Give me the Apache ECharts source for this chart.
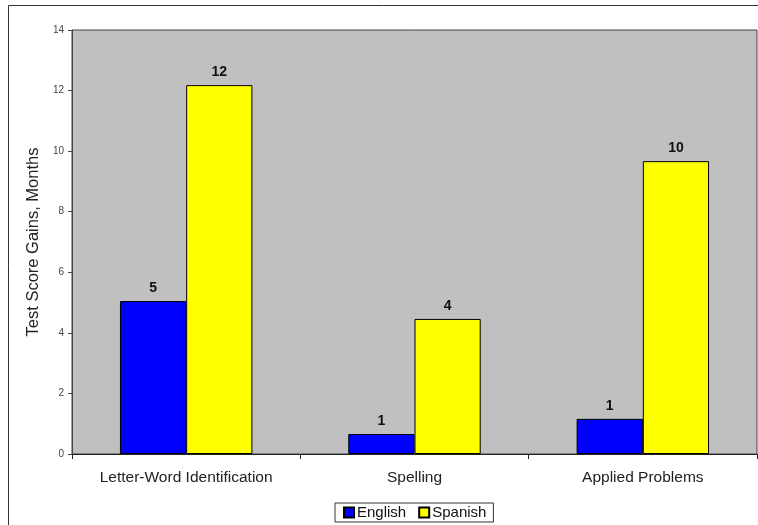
<!DOCTYPE html>
<html>
<head>
<meta charset="utf-8">
<script src="https://cdn.jsdelivr.net/npm/echarts@6/dist/echarts.min.js"></script>
<style>html,body{margin:0;padding:0;background:#fff;}#c{width:758px;height:525px;}</style>
</head>
<body>
<div id="c"></div>
<script>
var categories = ['Letter-Word Identification', 'Spelling', 'Applied Problems'];
var english = [5.05, 0.66, 1.16];
var spanish = [12.18, 4.46, 9.67];
var yTicks = [0, 2, 4, 6, 8, 10, 12, 14];

var chart = echarts.init(document.getElementById('c'));
var font = 'Liberation Sans, Arial, sans-serif';
var labelCfg = {
  show: true, position: 'top', distance: 6,
  fontFamily: font, fontWeight: 'bold', fontSize: 14, color: '#111',
  formatter: function (p) { return Math.round(p.value); }
};
chart.setOption({
  animation: false,
  graphic: [{
    type: 'rect', shape: { x: 8.5, y: 5.5, width: 800, height: 600 },
    style: { fill: 'none', stroke: '#333', lineWidth: 1 }, z: -10
  }],
  grid: {
    left: 72, right: 1, top: 30, bottom: 71,
    show: true, backgroundColor: '#c0c0c0', borderColor: '#444', borderWidth: 1
  },
  legend: {
    bottom: 3, left: 335,
    itemWidth: 10, itemHeight: 10, itemGap: 12,
    padding: [2, 7, 2, 8],
    borderColor: '#333', borderWidth: 1, borderRadius: 0,
    textStyle: { fontFamily: font, fontSize: 15, color: '#111', padding: [0, 0, 0, -2] },
    data: [{ name: 'English', icon: 'rect' }, { name: 'Spanish', icon: 'rect' }]
  },
  xAxis: {
    type: 'category', data: categories,
    axisLine: { lineStyle: { color: '#222', width: 1 } },
    axisTick: { show: true, alignWithLabel: false, length: 5, lineStyle: { color: '#222' } },
    axisLabel: { fontFamily: font, fontSize: 15.5, color: '#222', margin: 16 }
  },
  yAxis: {
    type: 'value', min: 0, max: 14, interval: 2,
    name: 'Test Score Gains, Months', nameLocation: 'middle', nameGap: 25,
    nameTextStyle: { fontFamily: font, fontSize: 16.5, color: '#222' },
    axisLine: { show: true, lineStyle: { color: '#444' } },
    axisTick: { show: true, length: 4, lineStyle: { color: '#444' } },
    axisLabel: {
      fontFamily: font, fontSize: 10, color: '#444', margin: 8,
      formatter: function (v) { return yTicks.indexOf(v) >= 0 ? String(v) : ''; }
    },
    splitLine: { show: false }
  },
  series: [{
    name: 'English', type: 'bar', data: english,
    barGap: '0%', barCategoryGap: '42%',
    itemStyle: { color: '#0000ff', borderColor: '#000', borderWidth: 1 },
    label: labelCfg
  }, {
    name: 'Spanish', type: 'bar', data: spanish,
    itemStyle: { color: '#ffff00', borderColor: '#000', borderWidth: 1 },
    label: labelCfg
  }]
});
</script>
</body>
</html>
